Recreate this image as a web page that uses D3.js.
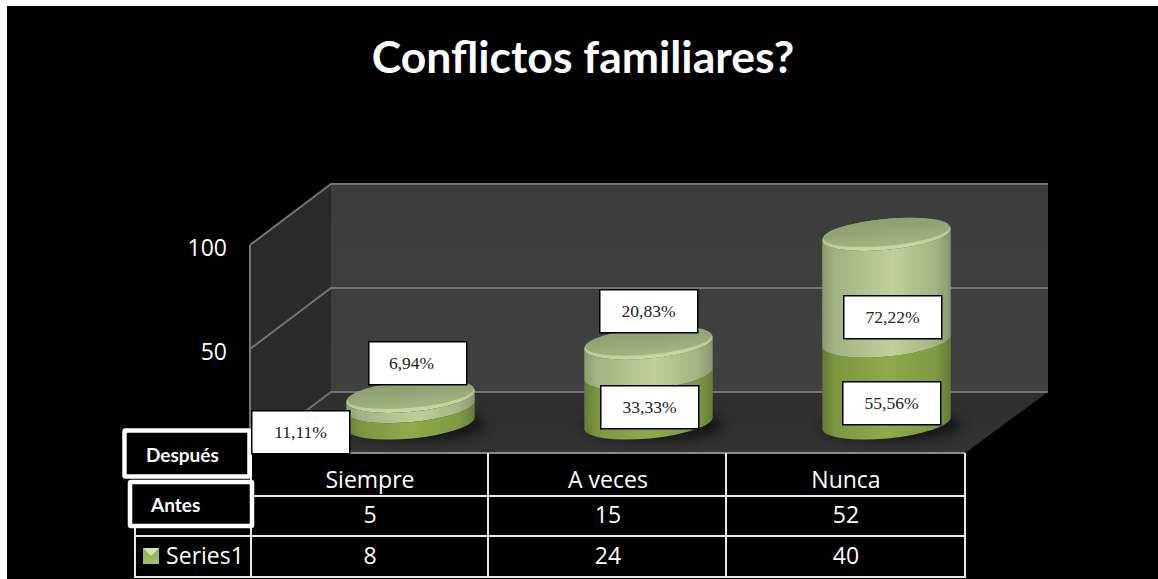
<!DOCTYPE html>
<html><head><meta charset="utf-8">
<script src="https://cdn.jsdelivr.net/npm/d3@7"></script>
<style>html,body{margin:0;padding:0;background:#fff}svg{display:block}</style>
</head><body><svg id="c" width="1158" height="579"></svg>
<script>
const titleText = "Conflictos familiares?";
const categories = ["Siempre","A veces","Nunca"];
const seriesLower = [8,24,40];
const seriesUpper = [5,15,52];
const lowerLabels = ["11,11%","33,33%","55,56%"];
const upperLabels = ["6,94%","20,83%","72,22%"];
const yTicks = [50,100];
const legendNames = ["Después","Antes"];
const tableSeriesName = "Series1";

const svg = d3.select("#c");
const defs = svg.append("defs");
function grad(id, stops, x2=1, y2=0){
  const g = defs.append("linearGradient").attr("id",id).attr("x1",0).attr("y1",0).attr("x2",x2).attr("y2",y2);
  stops.forEach(([o,c])=>g.append("stop").attr("offset",o).attr("stop-color",c));
}
grad("lowSide",[[0,"#64793a"],[.1,"#7c963f"],[.5,"#8eaa4a"],[.88,"#7f9a42"],[1,"#667c38"]]);
grad("upSide",[[0,"#8b9b70"],[.1,"#a2b484"],[.55,"#bfd098"],[.88,"#a3b583"],[1,"#87976e"]]);
grad("topFace",[[0,"#8c9d6f"],[.6,"#98aa78"],[1,"#a3b584"]],0,1);
grad("rim",[[0,"#9fb183"],[1,"#c8daa4"]],0,1);
grad("wall",[[0,"#3c3c3c"],[1,"#404040"]],0,1);
grad("floor",[[0,"#2f2f2f"],[1,"#333333"]],0,1);
defs.append("filter").attr("id","blur").attr("x","-30%").attr("y","-60%").attr("width","160%").attr("height","220%")
  .append("feGaussianBlur").attr("stdDeviation",6);

svg.append("rect").attr("x",7).attr("y",6).attr("width",1151).attr("height",573).attr("fill","#000");

// scales
const yFront = d3.scaleLinear().domain([0,100]).range([453,245]);
const yBack  = d3.scaleLinear().domain([0,100]).range([392,184]);
const yBar   = d3.scaleLinear().domain([0,100]).range([423,218]);
const xCat = d3.scaleBand().domain(categories).range([251,965]);
const depth = 81;
const x0 = xCat.range()[0]-1, x1 = xCat.range()[1];
const xr = x1+depth+2;

// walls
const poly = pts => pts.map(p=>p.join(",")).join(" ");
svg.append("polygon").attr("points",poly([[x0,yFront(100)],[x0+depth,yBack(100)],[x0+depth,yBack(0)],[x0,yFront(0)]])).attr("fill","#2a2a2a");
svg.append("polygon").attr("points",poly([[x0+depth,yBack(100)],[xr,yBack(100)],[xr,yBack(0)],[x0+depth,yBack(0)]])).attr("fill","url(#wall)");
svg.append("polygon").attr("points",poly([[x0,yFront(0)],[x0+depth,yBack(0)],[xr,yBack(0)],[x1,yFront(0)]])).attr("fill","url(#floor)");

// gridlines
const gridColor="#747474";
[0,...yTicks].forEach(t=>{
  svg.append("polyline").attr("points",poly([[x0,yFront(t)],[x0+depth,yBack(t)],[xr,yBack(t)]]))
    .attr("fill","none").attr("stroke",gridColor).attr("stroke-width",2);
});
svg.append("line").attr("x1",x0).attr("x2",x0).attr("y1",yFront(100)).attr("y2",yFront(0)).attr("stroke",gridColor).attr("stroke-width",2);
svg.append("line").attr("x1",x0).attr("x2",x1).attr("y1",yFront(0)).attr("y2",yFront(0)).attr("stroke","#8a8a8a").attr("stroke-width",2);

// axis
const axis = d3.axisLeft(yFront).tickValues(yTicks).tickSize(0).tickPadding(0);
const gAxis = svg.append("g").attr("transform","translate(227,3)").call(axis);
gAxis.select(".domain").remove();
gAxis.selectAll("text").attr("fill","#fff").style("font","23px 'Open Sans'");

// cylinders
const rx=64.5, ry=15.5, tiltDeg=-5.4, tilt=tiltDeg*Math.PI/180;
const dx=rx*Math.cos(tilt), dy=rx*Math.sin(tilt);
function sidePath(cx,yb,yt){
  return `M${cx-dx},${yt-dy} L${cx-dx},${yb-dy} A${rx},${ry} ${tiltDeg} 0 0 ${cx+dx},${yb+dy} L${cx+dx},${yt+dy} A${rx},${ry} ${tiltDeg} 0 1 ${cx-dx},${yt-dy} Z`;
}
const gBars = svg.append("g");
categories.forEach((c,i)=>{
  const cx = xCat(c)+xCat.bandwidth()/2 + 40.5;
  const y0=yBar(0), y1=yBar(seriesLower[i]), y2=yBar(seriesLower[i]+seriesUpper[i]);
  gBars.append("ellipse").attr("cx",cx+5).attr("cy",y0+2).attr("rx",rx+6).attr("ry",ry+1).attr("fill","#000").attr("opacity",.55).attr("filter","url(#blur)");
  gBars.append("path").attr("d",sidePath(cx,y0,y1)).attr("fill","url(#lowSide)");
  gBars.append("path").attr("d",sidePath(cx,y1,y2)).attr("fill","url(#upSide)");
  gBars.append("ellipse").attr("cx",cx).attr("cy",y2).attr("rx",rx).attr("ry",ry)
    .attr("transform",`rotate(${tiltDeg} ${cx} ${y2})`).attr("fill","url(#rim)");
  gBars.append("ellipse").attr("cx",cx).attr("cy",y2-2).attr("rx",rx-1).attr("ry",ry-2)
    .attr("transform",`rotate(${tiltDeg} ${cx} ${y2-2})`).attr("fill","url(#topFace)");
});

// table
const tableLine = "#e8e8e8";
const tableYs = [496,536,577];
const tableX = [135,251,488,726,965];
const g = svg.append("g");
tableYs.forEach(y=>g.append("line").attr("x1",y===496?251:135).attr("x2",966).attr("y1",y).attr("y2",y).attr("stroke",tableLine).attr("stroke-width",2));
tableX.forEach((x,i)=>g.append("line").attr("x1",x).attr("x2",x).attr("y1",i===0?526:453).attr("y2",578).attr("stroke",tableLine).attr("stroke-width",2));
const cell=(x,y,t)=>g.append("text").attr("x",x).attr("y",y).attr("text-anchor","middle").attr("fill","#fff").style("font","23px 'Open Sans'").text(t);
categories.forEach((c,i)=>{
  const cx=xCat(c)+xCat.bandwidth()/2;
  cell(cx,488,c);
  cell(cx,523,seriesUpper[i]);
  cell(cx,564,seriesLower[i]);
});
cell(205,564,tableSeriesName);
grad("key",[[0,"#8fae55"],[1,"#a6c070"]],0,1);
g.append("rect").attr("x",143).attr("y",548).attr("width",16).attr("height",16).attr("fill","url(#key)");
g.append("polygon").attr("points",poly([[143,548],[159,548],[151,556]])).attr("fill","#d3e3ae");

// legend boxes
[[124.5,430.5,125,46,legendNames[0],146,462],[130,482,122,44,legendNames[1],151,512]].forEach(([x,y,w,h,t,tx,ty])=>{
  g.append("rect").attr("x",x).attr("y",y).attr("width",w).attr("height",h).attr("rx",1).attr("fill","#000").attr("stroke","#fff").attr("stroke-width",4.5);
  g.append("text").attr("x",tx).attr("y",ty).attr("fill","#fff").style("font","bold 19px Lato").text(t);
});

// data labels
const lowSpots=[[251,410],[600,385],[842,381]], upSpots=[[368,341],[599,289],[843,295]];
function label(x,y,t,shift){
  const lg=svg.append("g");
  lg.append("rect").attr("x",x+.75).attr("y",y+.75).attr("width",98).attr("height",43).attr("fill","#fff").attr("stroke","#000").attr("stroke-width",1.5);
  lg.append("text").attr("x",x+49.5+shift).attr("y",y+28).attr("text-anchor","middle").attr("fill","#222").style("font","17.5px 'Liberation Serif'").text(t);
}
lowerLabels.forEach((t,i)=>label(lowSpots[i][0],lowSpots[i][1],t,0));
upperLabels.forEach((t,i)=>label(upSpots[i][0],upSpots[i][1],t,i===0?-6:0));

// title
svg.append("text").attr("x",583).attr("y",73).attr("text-anchor","middle").attr("fill","#fff").style("font","bold 44.5px Lato").text(titleText);
</script></body></html>
